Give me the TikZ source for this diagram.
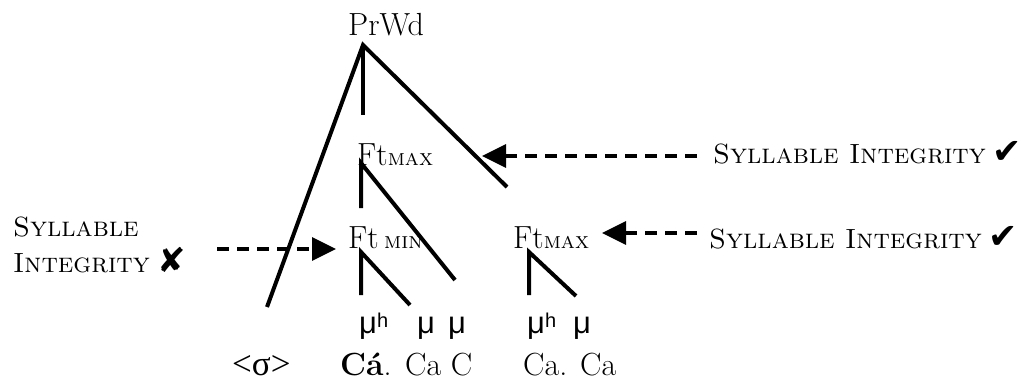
\documentclass[tikz,border=0pt]{standalone}
\usepackage{fontspec}
\newfontfamily\musans{Liberation Sans}
\newfontfamily\symfont{DejaVu Sans}
\newfontfamily\grkserif{Liberation Serif}
\usetikzlibrary{arrows.meta}
\tikzset{
  treeline/.style={line width=4pt},
  siarrow/.style={-{Triangle[length=24pt,width=23pt]}, line width=3.3pt,
    dash pattern=on 12pt off 8pt},
  wordlbl/.style={anchor=base west, inner sep=0pt, font=\fontsize{32}{36}\selectfont},
  mulbl/.style={anchor=base west, inner sep=0pt, font=\musans\fontsize{31}{34}\selectfont},
  silbl/.style={anchor=base west, inner sep=0pt, align=left,
    font=\fontsize{27.8}{36}\selectfont},
}
\newcommand{\chkmark}{\hspace{7pt}{\symfont\fontsize{35}{30}\selectfont ✔}}
\newcommand{\crsmark}{\hspace{8pt}{\symfont\fontsize{34}{30}\selectfont ✘}}
\newcommand{\muh}{μ{\fontsize{20}{20}\selectfont\raisebox{6pt}{h}}}
\newcommand{\ftsub}[1]{{\fontsize{23}{24}\selectfont\textsc{#1}}}

\begin{document}
\begin{tikzpicture}[x=1pt, y=-1pt]
  \useasboundingbox (0,0) rectangle (1021,381);
  % labels of the tree
  \node[wordlbl] (prwd) at (348,35) {PrWd};
  \node[wordlbl] (ftmax) at (357,165) {Ft\ftsub{max}};
  \node[wordlbl] (ftmin) at (348,248) {Ft\,\ftsub{min}};
  \node[wordlbl] (ftmaxb) at (513,248) {Ft\ftsub{max}};
  \node[mulbl] (mu1) at (359,333) {\muh};
  \node[mulbl] (mu2) at (417,333) {μ};
  \node[mulbl] (mu3) at (448,333) {μ};
  \node[mulbl] (mu4) at (527,333) {\muh};
  \node[mulbl] (mu5) at (573,333) {μ};
  \node[wordlbl] (sig) at (232,375) {\grkserif\fontsize{35}{36}\selectfont <σ>};
  \node[wordlbl] (ca1) at (340,375) {\textbf{Cá}.};
  \node[wordlbl] (ca2) at (405,375) {Ca C};
  \node[wordlbl] (ca3) at (523,375) {Ca. Ca};
  % branches
  \coordinate (apex) at (363,45);
  \coordinate (apexv) at (363,115);
  \coordinate (apexl) at (267,307);
  \coordinate (apexr) at (507,187);
  \coordinate (fa) at (361,163);
  \coordinate (fav) at (361,208);
  \coordinate (far) at (455,280);
  \coordinate (fb) at (361,252);
  \coordinate (fbv) at (361,295);
  \coordinate (fbr) at (410,305);
  \coordinate (fc) at (529,252);
  \coordinate (fcv) at (529,295);
  \coordinate (fcr) at (576,296);
  \draw[treeline] (apexl) -- (apex) -- (apexr);
  \draw[treeline] (apex) -- (apexv);
  \draw[treeline] (fav) -- (fa) -- (far);
  \draw[treeline] (fbv) -- (fb) -- (fbr);
  \draw[treeline] (fcv) -- (fc) -- (fcr);
  % syllable integrity
  \node[silbl] (si1) at (713,163) {\textsc{Syllable Integrity}\chkmark};
  \node[silbl] (si2) at (709,248) {\textsc{Syllable Integrity}\chkmark};
  \node[silbl] (si3) at (13,272) {\textsc{Syllable}\\\textsc{Integrity}\crsmark};
  \coordinate (s1) at (697,156);
  \coordinate (t1) at (482,156);
  \coordinate (s2) at (697,233);
  \coordinate (t2) at (602,233);
  \coordinate (s3) at (217,249);
  \coordinate (t3) at (336,249);
  \draw[siarrow] (s1) -- (t1);
  \draw[siarrow] (s2) -- (t2);
  \draw[siarrow] (s3) -- (t3);
\end{tikzpicture}
\end{document}
